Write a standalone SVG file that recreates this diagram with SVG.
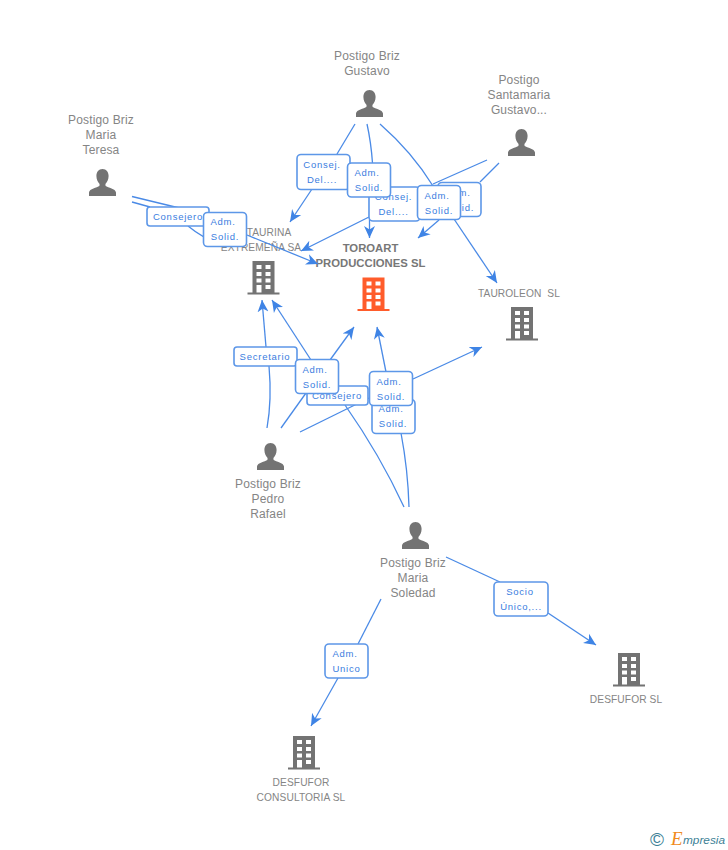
<svg xmlns="http://www.w3.org/2000/svg" width="728" height="850" viewBox="0 0 728 850">
<style>
text{font-family:"Liberation Sans",Arial,sans-serif}
.n{font-size:12px;letter-spacing:.15px;fill:#858585;text-anchor:middle}
.s{font-size:10.200px;letter-spacing:.1px;white-space:pre}
.b{font-size:11.300px;letter-spacing:0;font-weight:bold;fill:#777}
.l{fill:none;stroke:#4a8ae6;stroke-width:1.3}
.a{marker-end:url(#ah)}
.c{fill:#fff;stroke:#5d97e8;stroke-width:1.6}
.t{font-size:9.500px;letter-spacing:.75px;fill:#3a7de0;text-anchor:middle}
.i{fill:#737373}
</style>
<defs>
<marker id="ah" markerUnits="userSpaceOnUse" markerWidth="13" markerHeight="12" refX="12" refY="6" orient="auto">
<path d="M12,6 L0,0.5 L3.500,6 L0,11.500 Z" fill="#3f84e5"/>
</marker>
<symbol id="person" viewBox="0 0 27 27" width="27" height="27" overflow="visible">
<path d="M13.500,0 C17.400,0 19.600,3 19.600,7 C19.600,10.600 18,13.400 16.400,15 L16.600,17 C19,18.600 26.600,19.600 27,23.600 L27,27 L0,27 L0,23.600 C0.400,19.600 8,18.600 10.400,17 L10.600,15 C9,13.400 7.400,10.600 7.400,7 C7.400,3 9.600,0 13.500,0 Z"/>
</symbol>
<symbol id="bld" viewBox="0 0 32 34" width="32" height="34" overflow="visible">
<path fill-rule="evenodd" d="M5,0 H27 V31.500 H32 V33.500 H0 V31.500 H5 Z M9,4 V8 H14 V4 Z M18,4 V8 H23 V4 Z M9,11 V15 H14 V11 Z M18,11 V15 H23 V11 Z M9,17.500 V21.500 H14 V17.500 Z M18,17.500 V21.500 H23 V17.500 Z M9,24 V31.500 H14 V24 Z M18,24 V28 H23 V24 Z"/>
</symbol>
</defs>
<rect width="728" height="850" fill="#fff"/>

<g id="node-gustavo"><text class="n" x="367" y="60">Postigo Briz</text><text class="n" x="367" y="75">Gustavo</text><use href="#person" class="i" x="356" y="90"/></g>
<g id="node-santamaria"><text class="n" x="519" y="84">Postigo</text><text class="n" x="519" y="99">Santamaria</text><text class="n" x="519" y="114">Gustavo...</text><use href="#person" class="i" x="508" y="129"/></g>
<g id="node-teresa"><text class="n" x="101" y="124">Postigo Briz</text><text class="n" x="101" y="139">Maria</text><text class="n" x="101" y="154">Teresa</text><use href="#person" class="i" x="89" y="169"/></g>
<g id="node-taurina"><text class="n s" x="269" y="236">TAURINA</text><text class="n s" x="261" y="251">EXTREMEÑA SA</text><use href="#bld" class="i" x="247.500" y="261"/></g>
<g id="node-toroart"><text class="n b" x="370.500" y="252">TOROART</text><text class="n b" x="370.500" y="267">PRODUCCIONES SL</text><use href="#bld" fill="#ff5c2b" x="357.500" y="277.500"/></g>
<g id="node-tauroleon"><text class="n s" x="519" y="297">TAUROLEON  SL</text><use href="#bld" class="i" x="506" y="307"/></g>
<g id="node-pedro"><use href="#person" class="i" x="257" y="443"/><text class="n" x="268" y="488">Postigo Briz</text><text class="n" x="268" y="503">Pedro</text><text class="n" x="268" y="518">Rafael</text></g>
<g id="node-soledad"><use href="#person" class="i" x="402" y="522"/><text class="n" x="413" y="567">Postigo Briz</text><text class="n" x="413" y="582">Maria</text><text class="n" x="413" y="597">Soledad</text></g>
<g id="node-desfufor"><use href="#bld" class="i" x="613" y="653"/><text class="n s" x="626" y="703">DESFUFOR SL</text></g>
<g id="node-consultoria"><use href="#bld" class="i" x="288" y="736"/><text class="n s" x="301" y="786">DESFUFOR</text><text class="n s" x="301" y="801">CONSULTORIA SL</text></g>

<g id="connectors">
<path class="l" d="M355,124 L337,154"/><path class="l a" d="M312,189 L290,222"/>
<path class="l" d="M367,124 Q371,142 372.500,163"/><path class="l a" d="M369.500,197 L369.500,238"/>
<path class="l" d="M380,124 Q412,152 433,186"/><path class="l a" d="M454,219 L497,283"/>
<path class="l" d="M487,160 L433,184"/><path class="l a" d="M369,217 L301,251"/>
<path class="l" d="M499,163 L480,182"/><path class="l a" d="M439,220 L418,238"/>
<path class="l" d="M132,202 L150,207"/><path class="l a" d="M188,226 Q200,236 223,247"/>
<path class="l" d="M132,196.500 L204,214"/><path class="l a" d="M247,235 L318,264"/>
<path class="l" d="M267,428 Q272,400 269,366"/><path class="l a" d="M266,347 L262,300"/>
<path class="l" d="M281,428 L306,393"/><path class="l a" d="M311,360 L272,300"/>
<path class="l" d="M404,507 Q380,455 345,405"/><path class="l a" d="M330,360 L354,327"/>
<path class="l" d="M300,432 L369,398"/><path class="l a" d="M413,379 L482,347"/>
<path class="l" d="M409,507 Q408,470 401,433"/><path class="l a" d="M386,372 L377,327"/>
<path class="l" d="M381,599 L358,644"/><path class="l a" d="M338,678 L311,726"/>
<path class="l" d="M446,557 L500,582"/><path class="l a" d="M548,613 L596,645"/>

<g id="chip-consej-1"><rect class="c" x="297" y="154.500" width="53" height="35" rx="4"/><text class="t" x="322" y="168">Consej.</text><text class="t" x="322" y="183">Del....</text></g>
<g id="chip-secretario"><rect class="c" x="234" y="347" width="63" height="19" rx="3"/><text class="t" x="265" y="360">Secretario</text></g>
<g id="chip-consejero-1"><rect class="c" x="147" y="207" width="62" height="19" rx="3"/><text class="t" x="178" y="220">Consejero</text></g>
<g id="chip-consej-2"><rect class="c" x="369" y="187" width="51" height="34" rx="4"/><text class="t" x="393.500" y="200">Consej.</text><text class="t" x="393.500" y="215">Del....</text></g>
<g id="chip-adm-1"><rect class="c" x="347.500" y="163" width="43" height="34" rx="4"/><text class="t" x="367" y="176">Adm.</text><text class="t" x="369" y="191">Solid.</text></g>
<g id="chip-adm-2"><rect class="c" x="438" y="182.500" width="43" height="34" rx="4"/><text class="t" x="458" y="196">Adm.</text><text class="t" x="460" y="211">Solid.</text></g>
<g id="chip-adm-3"><rect class="c" x="417.500" y="185.500" width="43" height="34" rx="4"/><text class="t" x="437" y="199">Adm.</text><text class="t" x="439" y="214">Solid.</text></g>
<g id="chip-adm-4"><rect class="c" x="203.500" y="212.500" width="43" height="34" rx="4"/><text class="t" x="223" y="225">Adm.</text><text class="t" x="225" y="240">Solid.</text></g>
<g id="chip-consejero-2"><rect class="c" x="307" y="386" width="61" height="19" rx="3"/><text class="t" x="337" y="399">Consejero</text></g>
<g id="chip-adm-5"><rect class="c" x="295.500" y="359.500" width="43" height="34" rx="4"/><text class="t" x="315" y="373">Adm.</text><text class="t" x="317" y="388">Solid.</text></g>
<g id="chip-adm-6"><rect class="c" x="372" y="399.500" width="43" height="34" rx="4"/><text class="t" x="391" y="412">Adm.</text><text class="t" x="393" y="427">Solid.</text></g>
<g id="chip-adm-7"><rect class="c" x="369.500" y="371.500" width="43" height="34" rx="4"/><text class="t" x="389" y="385">Adm.</text><text class="t" x="391" y="400">Solid.</text></g>
<g id="chip-adm-unico"><rect class="c" x="325" y="644" width="43" height="34" rx="4"/><text class="t" x="345" y="657">Adm.</text><text class="t" x="346.500" y="672">Unico</text></g>
<g id="chip-socio"><rect class="c" x="494" y="582" width="54" height="34" rx="4"/><text class="t" x="520" y="595">Socio</text><text class="t" x="521" y="610">Único,...</text></g>
</g>

<g id="logo">
<text x="650" y="846" font-size="19" fill="#3c7f96">©</text>
<text x="671" y="845" font-size="19" font-style="italic" style="font-family:'Liberation Serif',serif" fill="#f08a1c">E</text>
<text x="683" y="844" font-size="11.800" font-style="italic" fill="#3c7f96">mpresia</text>
</g>
</svg>
